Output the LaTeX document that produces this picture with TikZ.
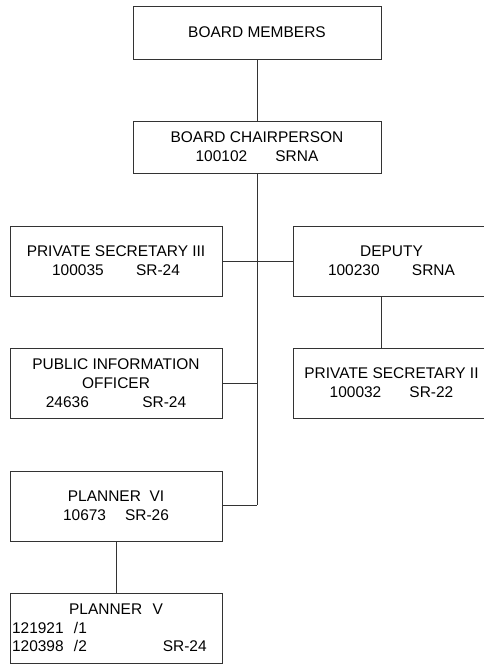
\documentclass[tikz,border=0pt]{standalone}
\usepackage{fontspec}
\setmainfont{Liberation Sans}
\begin{document}
\begin{tikzpicture}[x=0.025cm,y=-0.025cm,
  post/.style={draw=black!80,line width=0.6pt,inner sep=1.5pt,align=center,
    font=\fontsize{11}{13.3}\selectfont,minimum height=1.75cm},
  every path/.style={line width=0.6pt}]
\useasboundingbox (0,0) rectangle (484,664);
\node [post, minimum width=6.2cm, minimum height=1.325cm] (members) at (257,32.5) {BOARD MEMBERS};
\node [post, minimum width=6.2cm, minimum height=1.3cm] (chair) at (257,147) {BOARD CHAIRPERSON\\100102\hspace{20pt}SRNA};
\node [post, minimum width=5.3cm] (secIII) at (116,261) {PRIVATE SECRETARY III\\100035\hspace{23pt}SR-24};
\node [post, minimum width=4.925cm] (deputy) at (391.5,261) {DEPUTY\\100230\hspace{23pt}SRNA};
\node [post, minimum width=5.3cm] (info) at (116,383) {PUBLIC INFORMATION\\OFFICER\\24636\hspace{38pt}SR-24};
\node [post, minimum width=4.925cm] (secII) at (391.5,383) {PRIVATE SECRETARY II\\100032\hspace{20pt}SR-22};
\node [post, minimum width=5.3cm] (plannerVI) at (116,506) {PLANNER\ \ VI\\10673\hspace{13.5pt}SR-26};
\node [post, minimum width=5.3cm, text width=5.3cm-3pt, align=left] (plannerV) at (116,628)
  {\makebox[\linewidth]{PLANNER\ \ V}\\121921\ \ /1\\120398\ \ /2\hspace{54pt}SR-24};
\coordinate (trunk) at (257,505);
% connectors
\draw [black!80] (members) -- (chair);
\draw [black!80] (chair) -- (trunk);
\draw [black!80] (secIII) -- (deputy);
\draw [black!80] (info.east) -- (info.east -| trunk);
\draw [black!80] (plannerVI.east |- trunk) -- (trunk);
\draw [black!80] (chair.east |- deputy.south) -- (chair.east |- secII.north);
\draw [black!80] (plannerVI) -- (plannerV);
\end{tikzpicture}
\end{document}
